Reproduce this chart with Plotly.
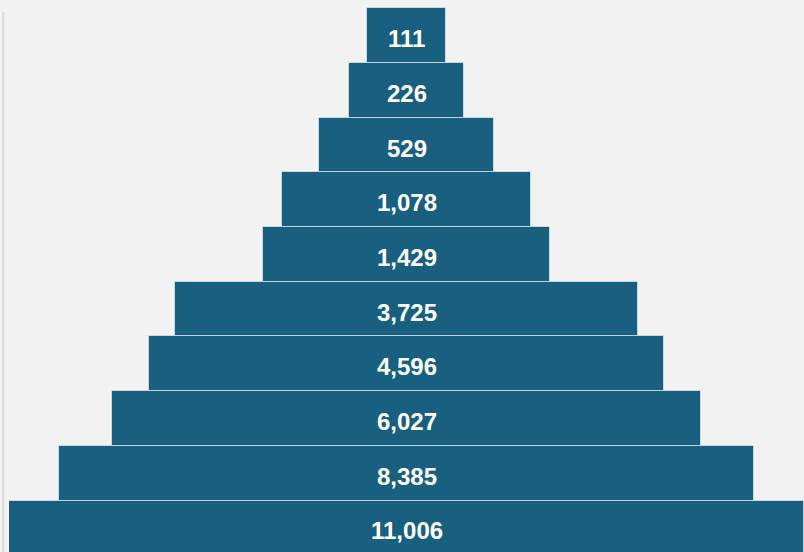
import numpy as np
import plotly.graph_objects as go

# Tier counts, top of the pyramid first
tiers = ["Tier 1", "Tier 2", "Tier 3", "Tier 4", "Tier 5",
         "Tier 6", "Tier 7", "Tier 8", "Tier 9", "Tier 10"]
counts = [111, 226, 529, 1078, 1429, 3725, 4596, 6027, 8385, 11006]

# Bar widths follow a square-root scale of the counts
widths = np.sqrt(np.array(counts, dtype=float))
labels = [f"{c:,}" for c in counts]
positions = list(range(len(tiers)))

BAR = "#185f80"
BG = "#f2f2f2"
FONT = "Liberation Sans, Arial, sans-serif"

fig = go.Figure(
    go.Funnel(
        y=positions,
        x=widths,
        textinfo="none",
        marker=dict(color=BAR, line=dict(color="rgba(255,255,255,0.55)", width=1)),
        connector=dict(visible=False),
        customdata=counts,
        hovertext=tiers,
        hovertemplate="%{hovertext}: %{customdata:,}<extra></extra>",
    )
)

# count labels centred on each bar, sitting slightly low
for pos, lab in zip(positions, labels):
    fig.add_annotation(
        x=0, y=pos, xref="x", yref="y",
        text=f"<b>{lab}</b>", showarrow=False, yshift=-3,
        font=dict(family=FONT, size=24, color="white"),
    )

R = 52.4
fig.update_layout(
    width=804,
    height=552,
    margin=dict(l=9, r=0, t=0, b=0),
    paper_bgcolor=BG,
    plot_bgcolor=BG,
    funnelgap=0,
    showlegend=False,
    xaxis=dict(visible=False, range=[-R, R]),
    yaxis=dict(visible=False, range=[9.441, -0.651]),
    shapes=[
        dict(type="line", xref="paper", yref="paper",
             x0=-0.0073, x1=-0.0073, y0=0, y1=1 - 12 / 552,
             line=dict(color="#dddddd", width=2.5)),
    ],
)

fig.write_html("out.html")
